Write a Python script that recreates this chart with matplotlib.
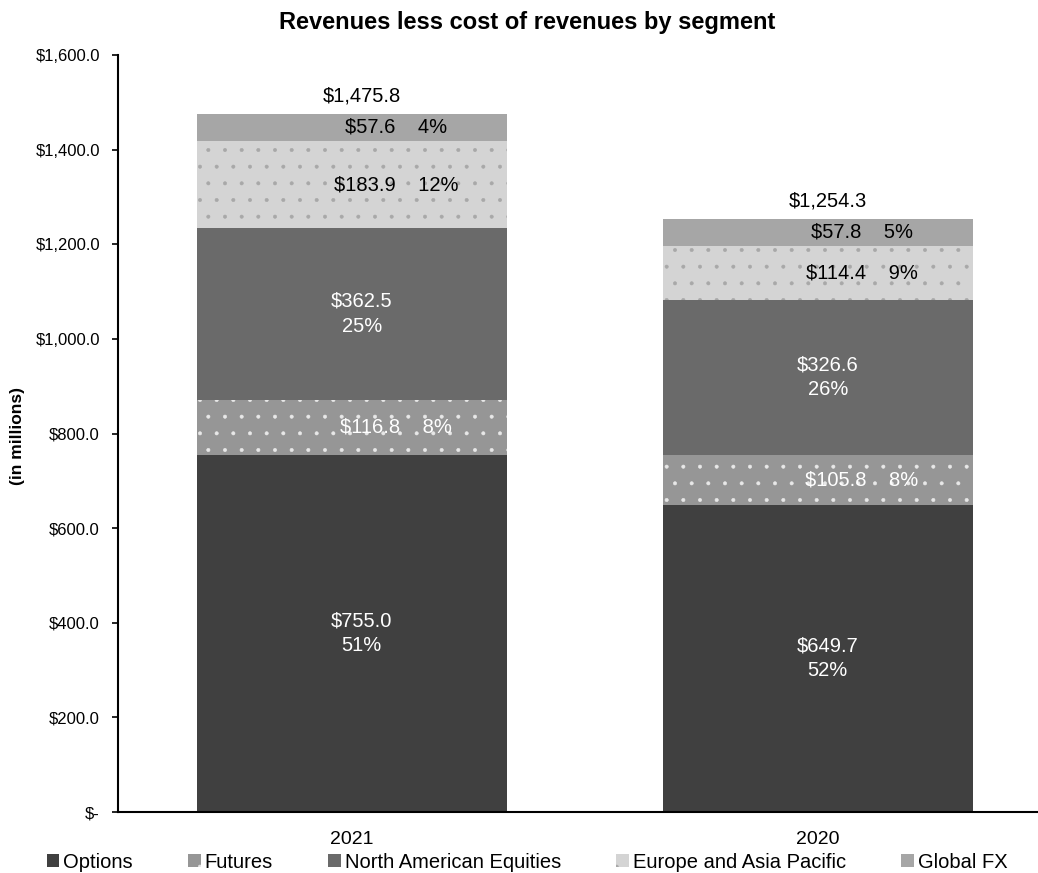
import matplotlib
matplotlib.use("Agg")
import matplotlib.pyplot as plt
from matplotlib.patches import Patch
import numpy as np

plt.rcParams['font.family'] = ['Liberation Sans', 'DejaVu Sans']
plt.rcParams['hatch.linewidth'] = 0.4

years = ['2021', '2020']
segments = ['Options', 'Futures', 'North American Equities', 'Europe and Asia Pacific', 'Global FX']
options = [755.0, 649.7]
futures = [116.8, 105.8]
nae = [362.5, 326.6]
eap = [183.9, 114.4]
gfx = [57.6, 57.8]
options_pct = [51, 52]
futures_pct = [8, 8]
nae_pct = [25, 26]
eap_pct = [12, 9]
gfx_pct = [4, 5]
totals = [1475.8, 1254.3]
ytick_vals = [0, 200, 400, 600, 800, 1000, 1200, 1400, 1600]
ytick_labels = ['$-', '$200.0', '$400.0', '$600.0', '$800.0', '$1,000.0', '$1,200.0', '$1,400.0', '$1,600.0']

values = [options, futures, nae, eap, gfx]
pcts = [options_pct, futures_pct, nae_pct, eap_pct, gfx_pct]
facecolors = ['#404040', '#969696', '#6a6a6a', '#d4d4d4', '#a6a6a6']
hatchcolors = ['#404040', '#e8e8e8', '#6a6a6a', '#a8a8a8', '#a6a6a6']
hatches = [None, '.', None, '.', None]
textcolors = ['white', 'white', 'white', 'black', 'black']
two_line = [True, False, True, False, False]

fig = plt.figure(figsize=(10.38, 8.73), dpi=100)
ax = fig.add_axes([118/1038, 61/873, 920/1038, 757/873])

x = np.arange(len(years))
width = 0.665
bottom = np.zeros(len(years))
for i, seg in enumerate(segments):
    vals = np.array(values[i])
    ax.bar(x, vals, width, bottom=bottom, color=facecolors[i],
           edgecolor=hatchcolors[i], linewidth=0, hatch=hatches[i], label=seg)
    for j in range(len(years)):
        yc = bottom[j] + vals[j] / 2
        if two_line[i]:
            s = f"${vals[j]:,.1f}\n{pcts[i][j]}%"
            ax.text(x[j] + 0.021, yc, s, ha='center', va='center',
                    color=textcolors[i], fontsize=14.5, linespacing=1.4)
        else:
            s = f"${vals[j]:,.1f}    {pcts[i][j]}%"
            ax.text(x[j] + 0.094, yc, s, ha='center', va='center',
                    color=textcolors[i], fontsize=14.5)
    bottom = bottom + vals

for j in range(len(years)):
    ax.annotate(f"${totals[j]:,.1f}", (x[j] + 0.021, totals[j]),
                xytext=(0, 6), textcoords='offset points',
                ha='center', va='bottom', fontsize=14.5)

ax.set_xlim(-0.502, 1.472)
ax.set_ylim(0, 1600)
ax.set_yticks(ytick_vals)
ax.set_yticklabels(ytick_labels, fontsize=12)
ax.set_xticks(x)
ax.set_xticklabels(years, fontsize=14)
ax.tick_params(axis='x', length=0, pad=14)
ax.tick_params(axis='y', length=4, width=1.2, direction='out', pad=9)
for side in ['top', 'right']:
    ax.spines[side].set_visible(False)
for side in ['left', 'bottom']:
    ax.spines[side].set_linewidth(1.5)
    ax.spines[side].set_color('black')

fig.text(18/1038, 1 - 436/873, '(in millions)', rotation=90, ha='center', va='center',
         fontsize=12.5, fontweight='bold')
fig.text(527/1038, 1 - 23/873, 'Revenues less cost of revenues by segment',
         ha='center', va='center', fontsize=17, fontweight='bold')

handles = [Patch(facecolor=facecolors[i], edgecolor=hatchcolors[i], linewidth=0,
                 hatch=hatches[i], label=segments[i]) for i in range(len(segments))]
fig.legend(handles=handles, loc='center', bbox_to_anchor=(527/1038, 1 - 862/873),
           ncol=5, frameon=False, fontsize=14.5, handlelength=0.62, handleheight=0.62,
           handletextpad=0.2, columnspacing=2.75, borderpad=0, borderaxespad=0)

fig.savefig('out.png', dpi=100)
